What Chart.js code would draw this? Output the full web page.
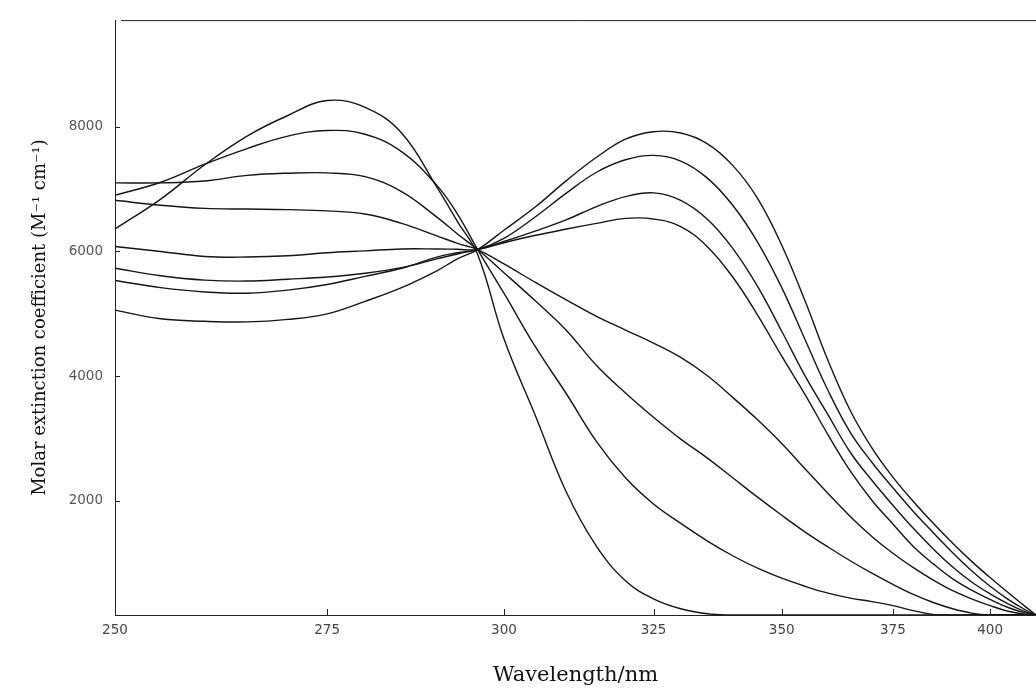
<!DOCTYPE html>
<html>
<head>
<meta charset="utf-8">
<title>Molar extinction spectra</title>
<script src="https://cdn.jsdelivr.net/npm/chart.js@4.4.1/dist/chart.umd.min.js"></script>
<style>
  html, body { margin: 0; padding: 0; background: #fff; }
  #wrap { width: 1036px; height: 694px; }
</style>
</head>
<body>
<div id="wrap"><canvas id="spectra" width="1036" height="694"></canvas></div>
<script>
// wavelength grid (nm) shared by every trace
const wavelengths = [250, 255, 260, 265, 270, 275, 280, 285, 290, 293, 296,
  300, 305, 310, 315, 320, 325, 330, 335, 340, 345, 350, 355, 360, 365, 370,
  375, 380, 385, 390, 395, 400, 405, 410, 413];

// extinction coefficients (M-1 cm-1)
const curveD = [6360, 6840, 7390, 7850, 8180, 8420, 8310, 7900, 7030, 6480, 5950,
  4600, 3350, 2130, 1270, 720, 430, 270, 190, 170, 170, 170, 170, 170, 170, 170,
  170, 170, 170, 170, 170, 170, 170, 170, 170];
const curveB = [6900, 7110, 7400, 7650, 7850, 7940, 7880, 7600, 7060, 6600, 6030,
  5330, 4460, 3710, 2950, 2370, 1950, 1640, 1360, 1120, 920, 760, 630, 520, 440, 385,
  320, 240, 180, 170, 170, 170, 170, 170, 170];
const curveA = [7100, 7100, 7130, 7220, 7255, 7260, 7200, 6960, 6550, 6280, 6030,
  5660, 5200, 4730, 4170, 3730, 3340, 2990, 2690, 2370, 2060, 1770, 1500, 1260, 1040, 840,
  660, 500, 370, 270, 200, 170, 170, 170, 170];
const curveC = [6820, 6740, 6690, 6680, 6670, 6650, 6600, 6450, 6250, 6130, 6030,
  5800, 5500, 5220, 4960, 4740, 4530, 4300, 4010, 3660, 3300, 2920, 2510, 2120, 1750, 1430,
  1160, 930, 730, 560, 430, 320, 230, 180, 170];
const curveE = [6080, 6000, 5920, 5910, 5930, 5980, 6010, 6040, 6040, 6035, 6030,
  6140, 6260, 6360, 6450, 6530, 6520, 6400, 6080, 5590, 4980, 4320, 3700, 3060, 2480, 2010,
  1630, 1270, 990, 750, 570, 420, 290, 200, 170];
const curveF = [5730, 5610, 5540, 5525, 5555, 5590, 5650, 5740, 5880, 5960, 6030,
  6160, 6330, 6510, 6720, 6880, 6940, 6820, 6520, 6050, 5440, 4720, 4000, 3380, 2780, 2330,
  1930, 1560, 1230, 940, 700, 510, 350, 220, 170];
const curveG = [5535, 5420, 5350, 5330, 5380, 5470, 5600, 5730, 5910, 5980, 6030,
  6210, 6560, 6940, 7270, 7470, 7540, 7450, 7180, 6740, 6150, 5420, 4580, 3770, 3100, 2620,
  2210, 1830, 1490, 1170, 880, 630, 420, 250, 170];
const curveH = [5060, 4920, 4880, 4870, 4910, 5000, 5200, 5420, 5690, 5880, 6030,
  6340, 6720, 7140, 7510, 7800, 7920, 7900, 7730, 7380, 6850, 6100, 5200, 4250, 3450, 2850,
  2380, 1990, 1640, 1320, 1030, 770, 530, 300, 170];

const xTickLabels = [250, 275, 300, 325, 350, 375, 400];
const yTickValues = [2000, 4000, 6000, 8000];

// the abscissa is linear in wavenumber, so plot 1e7/lambda on a reversed axis
const toNu = l => 1e7 / l;

function trace(values) {
  return {
    data: values.map((v, i) => ({ x: toNu(wavelengths[i]), y: v })),
    borderColor: '#151515',
    borderWidth: 1.4,
    pointRadius: 0,
    fill: false,
    tension: 0.4
  };
}

const frame = {
  id: 'frame',
  afterDraw(chart) {
    const { ctx, chartArea: a, scales: { x, y } } = chart;
    ctx.save();
    ctx.strokeStyle = '#222';
    ctx.lineWidth = 1;
    ctx.beginPath();
    ctx.moveTo(a.left + 6, a.top + 0.5);
    ctx.lineTo(a.right, a.top + 0.5);
    x.ticks.forEach(t => {
      const px = Math.round(x.getPixelForValue(t.value)) + 0.5;
      if (px - a.left < 3) return;
      ctx.moveTo(px, a.bottom);
      ctx.lineTo(px, a.bottom - 6);
    });
    y.ticks.forEach(t => {
      const py = Math.round(y.getPixelForValue(t.value)) + 0.5;
      ctx.moveTo(a.left, py);
      ctx.lineTo(a.left + 5, py);
    });
    ctx.stroke();
    ctx.restore();
  }
};

const tickFont = { family: 'DejaVu Sans', size: 13.5 };

new Chart(document.getElementById('spectra'), {
  type: 'line',
  data: {
    datasets: [curveD, curveB, curveA, curveC, curveE, curveF, curveG, curveH].map(trace)
  },
  options: {
    responsive: false,
    animation: false,
    layout: { padding: { top: 15, right: 0, left: 0, bottom: 0 } },
    plugins: { legend: { display: false }, tooltip: { enabled: false } },
    scales: {
      x: {
        type: 'linear',
        reverse: true,
        min: toNu(413),
        max: toNu(250),
        afterBuildTicks(scale) {
          scale.ticks = xTickLabels.map(l => ({ value: toNu(l) }));
        },
        afterFit(scale) { scale.height = 79; },
        grid: { display: true, drawOnChartArea: false, drawTicks: false },
        border: { display: true, color: '#222', width: 1 },
        ticks: {
          color: '#444',
          font: tickFont,
          padding: 7,
          maxRotation: 0,
          autoSkip: false,
          callback: v => String(Math.round(1e7 / v))
        },
        title: {
          display: true,
          text: 'Wavelength/nm',
          color: '#111',
          font: { family: 'DejaVu Serif', size: 21 },
          padding: { top: 0, bottom: 6 }
        }
      },
      y: {
        min: 170,
        max: 9710,
        afterBuildTicks(scale) {
          scale.ticks = yTickValues.map(v => ({ value: v }));
        },
        afterFit(scale) { scale.width = 115; },
        grid: { display: true, drawOnChartArea: false, drawTicks: false },
        border: { display: true, color: '#222', width: 1 },
        ticks: {
          color: '#555',
          font: tickFont,
          padding: 12,
          callback: v => String(v)
        },
        title: {
          display: true,
          text: 'Molar extinction coefficient (M⁻¹ cm⁻¹)',
          color: '#111',
          font: { family: 'DejaVu Serif', size: 18 },
          padding: { top: 30, bottom: 0 }
        }
      }
    }
  },
  plugins: [frame]
});
</script>
</body>
</html>
